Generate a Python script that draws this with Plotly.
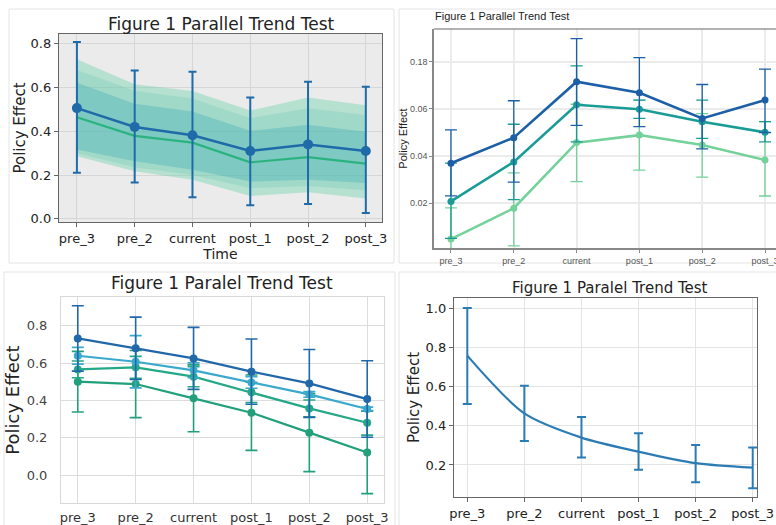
import plotly.graph_objects as go

W, H = 776, 525

periods = ["pre_3", "pre_2", "current", "post_1", "post_2", "post_3"]

# Panel 1 (top-left)
p1_blue = [0.506, 0.42, 0.382, 0.31, 0.34, 0.31]
p1_blue_hi = [0.808, 0.678, 0.672, 0.554, 0.627, 0.604]
p1_blue_lo = [0.21, 0.166, 0.098, 0.062, 0.067, 0.026]
p1_green = [0.464, 0.379, 0.348, 0.258, 0.282, 0.252]
p1_band_outer_hi = [0.73, 0.615, 0.584, 0.495, 0.554, 0.519]
p1_band_outer_lo = [0.286, 0.217, 0.178, 0.104, 0.121, 0.093]
p1_band_mid_hi = [0.68, 0.585, 0.55, 0.46, 0.505, 0.475]
p1_band_mid_lo = [0.30, 0.235, 0.20, 0.14, 0.15, 0.13]
p1_band_inner_hi = [0.622, 0.526, 0.49, 0.402, 0.43, 0.398]
p1_band_inner_lo = [0.317, 0.263, 0.224, 0.17, 0.178, 0.163]
p1_yticks = [0.0, 0.2, 0.4, 0.6, 0.8]

# Panel 2 (top-right)
p2_dark = [0.0369, 0.0478, 0.0716, 0.0669, 0.056, 0.0638]
p2_dark_hi = [0.0511, 0.0635, 0.0899, 0.0818, 0.0704, 0.0769]
p2_dark_lo = [0.0231, 0.0289, 0.053, 0.0525, 0.043, 0.050]
p2_teal = [0.0207, 0.0375, 0.0618, 0.0599, 0.0546, 0.0501]
p2_teal_hi = [0.037, 0.0535, 0.0783, 0.0638, 0.0638, 0.0546]
p2_teal_lo = [0.005, 0.0215, 0.046, 0.056, 0.0475, 0.046]
p2_light = [0.0047, 0.0178, 0.0457, 0.0489, 0.0447, 0.0383]
p2_light_hi = [0.018, 0.0328, 0.062, 0.0638, 0.058, 0.0546]
p2_light_lo = [-0.009, 0.0018, 0.0291, 0.034, 0.031, 0.023]
p2_tickvals = [0.02, 0.04, 0.06, 0.08]
p2_ticktext = ["0.02", "0.04", "0.06", "0.18"]

# Panel 3 (bottom-left)
p3_a = [0.732, 0.679, 0.625, 0.554, 0.491, 0.407]
p3_a_err = [0.175, 0.167, 0.166, 0.175, 0.182, 0.205]
p3_b = [0.639, 0.607, 0.561, 0.496, 0.432, 0.354]
p3_b_err = [0.045, 0.14, 0.04, 0.031, 0.015, 0.01]
p3_c = [0.566, 0.577, 0.527, 0.443, 0.357, 0.28]
p3_c_err = [0.045, 0.059, 0.054, 0.054, 0.045, 0.066]
p3_d = [0.5, 0.4875, 0.411, 0.334, 0.227, 0.121]
p3_d_err = [0.1625, 0.18, 0.179, 0.202, 0.209, 0.221]
p3_yticks = [0.0, 0.2, 0.4, 0.6, 0.8]

# Panel 4 (bottom-right)
p4_y = [0.76, 0.464, 0.34, 0.268, 0.209, 0.186]
p4_hi = [1.004, 0.606, 0.446, 0.362, 0.302, 0.289]
p4_lo = [0.512, 0.323, 0.238, 0.176, 0.111, 0.081]
p4_yticks = [0.2, 0.4, 0.6, 0.8, 1.0]


def errs(y, hi, lo):
    return [h - v for v, h in zip(y, hi)], [v - l for v, l in zip(y, lo)]


def px_x(v):
    return v / W


def px_y(v):
    return 1 - v / H


def dom_x(a, b):
    return [max(px_x(a), 0.0), min(px_x(b), 1.0)]


def dom_y(top, bottom):
    return [px_y(bottom), px_y(top)]


fig = go.Figure()

# ---------- Panel 1 ----------
def band(hi, lo, color, ax):
    fig.add_trace(go.Scatter(
        x=periods + periods[::-1], y=hi + lo[::-1], fill="toself",
        fillcolor=color, line=dict(width=0), mode="lines",
        hoverinfo="skip", showlegend=False, xaxis="x" + ax, yaxis="y" + ax))

band(p1_band_outer_hi, p1_band_outer_lo, "rgba(110,210,170,0.42)", "")
band(p1_band_mid_hi, p1_band_mid_lo, "rgba(80,190,175,0.2)", "")
band(p1_band_inner_hi, p1_band_inner_lo, "rgba(50,165,185,0.3)", "")

fig.add_trace(go.Scatter(x=periods, y=p1_green, mode="lines",
                         line=dict(color="#2bb37f", width=2.2), showlegend=False))
ep, em = errs(p1_blue, p1_blue_hi, p1_blue_lo)
fig.add_trace(go.Scatter(x=periods, y=p1_blue, mode="lines+markers",
                         line=dict(color="#1f6aa8", width=2.5),
                         marker=dict(size=10, color="#1f6aa8"),
                         error_y=dict(type="data", symmetric=False, array=ep, arrayminus=em,
                                      color="#1f6aa8", thickness=2, width=4),
                         showlegend=False))

# ---------- Panel 2 ----------
for y, hi, lo, col in [(p2_light, p2_light_hi, p2_light_lo, "#74d19a"),
                       (p2_teal, p2_teal_hi, p2_teal_lo, "#1a9c96"),
                       (p2_dark, p2_dark_hi, p2_dark_lo, "#1d5fa6")]:
    ep, em = errs(y, hi, lo)
    fig.add_trace(go.Scatter(x=periods, y=y, mode="lines+markers",
                             line=dict(color=col, width=2.6),
                             marker=dict(size=7, color=col),
                             error_y=dict(type="data", symmetric=False, array=ep, arrayminus=em,
                                          color=col, thickness=1.3, width=6),
                             showlegend=False, xaxis="x2", yaxis="y2"))

# ---------- Panel 3 ----------
for y, e, col in [(p3_d, p3_d_err, "#22a07c"),
                  (p3_c, p3_c_err, "#25a887"),
                  (p3_b, p3_b_err, "#3aa9cc"),
                  (p3_a, p3_a_err, "#2068aa")]:
    fig.add_trace(go.Scatter(x=periods, y=y, mode="lines+markers",
                             line=dict(color=col, width=2.2),
                             marker=dict(size=8, color=col),
                             error_y=dict(type="data", array=e, color=col, thickness=1.6, width=6),
                             showlegend=False, xaxis="x3", yaxis="y3"))

# ---------- Panel 4 ----------
ep, em = errs(p4_y, p4_hi, p4_lo)
fig.add_trace(go.Scatter(x=periods, y=p4_y, mode="lines",
                         line=dict(color="#2b7bb5", width=2.2, shape="spline", smoothing=0.8),
                         error_y=dict(type="data", symmetric=False, array=ep, arrayminus=em,
                                      color="#2b7bb5", thickness=2, width=4.5),
                         showlegend=False, xaxis="x4", yaxis="y4"))

mpl_font = "DejaVu Sans"
gg_font = "Liberation Sans"

layout = dict(
    width=W, height=H, margin=dict(l=0, r=0, t=0, b=0, autoexpand=False),
    paper_bgcolor="white", plot_bgcolor="white",
    font=dict(family=mpl_font, color="#222"),
    xaxis=dict(domain=dom_x(59, 382), anchor="y", type="category", categoryorder="array",
               categoryarray=periods, range=[-0.31, 5.28], showgrid=True, gridcolor="#d6d6d6",
               showline=True, mirror=True, linecolor="#666", linewidth=1.3,
               ticks="outside", ticklen=4, tickcolor="#666", automargin=False,
               tickfont=dict(size=13, color="#222"),
               title=dict(text="Time", font=dict(size=14, color="#222"), standoff=1)),
    yaxis=dict(domain=dom_y(34, 222), anchor="x", range=[-0.015, 0.845], tickvals=p1_yticks,
               tickformat=".1f", showgrid=True, gridcolor="#d6d6d6", zeroline=False,
               showline=True, mirror=True, linecolor="#666", linewidth=1.3,
               ticks="outside", ticklen=4, tickcolor="#666", automargin=False,
               tickfont=dict(size=13, color="#222"),
               title=dict(text="Policy Effect", font=dict(size=15, color="#222"), standoff=1)),
    xaxis2=dict(domain=dom_x(434, 776), anchor="y2", type="category", categoryorder="array",
                categoryarray=periods, range=[-0.27, 5.175], showgrid=True, gridcolor="#ebebeb",
                gridwidth=1.5, showline=True, linecolor="#888", linewidth=1.5,
                ticks="outside", ticklen=3, tickcolor="#888", automargin=False,
                tickfont=dict(size=9, color="#555", family=gg_font)),
    yaxis2=dict(domain=dom_y(29, 248), anchor="x2", range=[0.0009, 0.094],
                tickvals=p2_tickvals, ticktext=p2_ticktext, showgrid=True, gridcolor="#ebebeb",
                gridwidth=1.5, zeroline=False, showline=True, linecolor="#888", linewidth=1.5,
                ticks="outside", ticklen=3, tickcolor="#888", automargin=False,
                tickfont=dict(size=9, color="#555", family=gg_font),
                title=dict(text="Policy Effect", font=dict(size=11, color="#222", family=gg_font),
                           standoff=0)),
    xaxis3=dict(domain=dom_x(61, 384), anchor="y3", type="category", categoryorder="array",
                categoryarray=periods, range=[-0.29, 5.29], showgrid=True, gridcolor="#dcdcdc",
                showline=True, mirror=True, linecolor="#d8d8d8", linewidth=1,
                ticks="outside", ticklen=2, tickcolor="rgba(0,0,0,0)", automargin=False,
                tickfont=dict(size=13, color="#333")),
    yaxis3=dict(domain=dom_y(297, 503), anchor="x3", range=[-0.15, 0.954], tickvals=p3_yticks,
                tickformat=".1f", showgrid=True, gridcolor="#dcdcdc", zeroline=False,
                showline=True, mirror=True, linecolor="#d8d8d8", linewidth=1,
                ticks="outside", ticklen=10, tickcolor="rgba(0,0,0,0)", automargin=False,
                tickfont=dict(size=13, color="#444"),
                title=dict(text="Policy Effect", font=dict(size=18, color="#222"), standoff=2)),
    xaxis4=dict(domain=dom_x(454, 757), anchor="y4", type="category", categoryorder="array",
                categoryarray=periods, range=[-0.233, 5.075], showgrid=True, gridcolor="#e4e4e4",
                showline=True, mirror=True, linecolor="#666", linewidth=1.3,
                ticks="outside", ticklen=4, tickcolor="#666", automargin=False,
                tickfont=dict(size=13, color="#222")),
    yaxis4=dict(domain=dom_y(298, 497), anchor="x4", range=[0.036, 1.055], tickvals=p4_yticks,
                tickformat=".1f", showgrid=True, gridcolor="#e4e4e4", zeroline=False,
                showline=True, mirror=True, linecolor="#666", linewidth=1.3,
                ticks="outside", ticklen=4, tickcolor="#666", automargin=False,
                tickfont=dict(size=13, color="#222"),
                title=dict(text="Policy Effect", font=dict(size=15, color="#222"), standoff=2)),
)
fig.update_layout(**layout)

shapes = []
# cards
for x0, y0, x1, y1 in [(9, 9, 394, 263), (399, 9, 790, 263), (4, 272, 395, 540), (399, 272, 790, 540)]:
    shapes.append(dict(type="rect", xref="paper", yref="paper", x0=px_x(x0), x1=px_x(x1),
                       y0=px_y(y1), y1=px_y(y0), line=dict(color="#e4e4e4", width=1),
                       fillcolor="rgba(0,0,0,0)", layer="below"))
# panel 1 gray background
shapes.append(dict(type="rect", xref="x domain", yref="y domain", x0=0, x1=1, y0=0, y1=1,
                   fillcolor="#ebebeb", line=dict(width=0), layer="below"))
# panel 2 top border
shapes.append(dict(type="line", xref="x2 domain", yref="y2 domain", x0=0, x1=1, y0=1, y1=1,
                   line=dict(color="#999", width=1.5)))
fig.update_layout(shapes=shapes)

annotations = [
    dict(text="Figure 1 Parallel Trend Test", x=px_x(221), y=px_y(24), xref="paper", yref="paper",
         xanchor="center", yanchor="middle", showarrow=False,
         font=dict(size=17, color="#222", family=mpl_font)),
    dict(text="Figure 1 Parallel Trend Test", x=px_x(433), y=px_y(16), xref="paper", yref="paper",
         xanchor="left", yanchor="middle", showarrow=False,
         font=dict(size=11, color="#222", family=gg_font)),
    dict(text="Figure 1 Paralel Trend Test", x=px_x(222), y=px_y(283), xref="paper", yref="paper",
         xanchor="center", yanchor="middle", showarrow=False,
         font=dict(size=17, color="#222", family=mpl_font)),
    dict(text="Figure 1 Paralel Trend Test", x=px_x(610), y=px_y(288), xref="paper", yref="paper",
         xanchor="center", yanchor="middle", showarrow=False,
         font=dict(size=15, color="#222", family=mpl_font)),
]
fig.update_layout(annotations=annotations)

fig.write_html("out.html", config={"displayModeBar": False},
               post_script="document.body.style.margin='0';document.body.style.overflow='hidden';")
